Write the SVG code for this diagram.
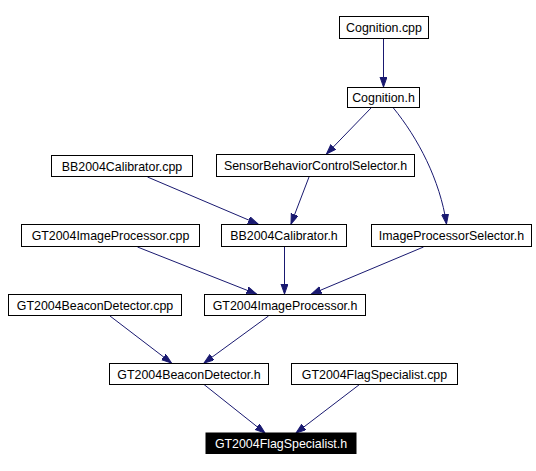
<svg xmlns="http://www.w3.org/2000/svg" width="536" height="471" viewBox="0 0 536 471">
<style>
.n rect{fill:#fff;stroke:#000;stroke-width:1}
.n text{font-family:"Liberation Sans",Arial,sans-serif;font-size:12.4px;fill:#000;text-anchor:middle}
.n.hl rect{fill:#000}
.n.hl text{fill:#fff}
.e path{fill:none;stroke:#191970;stroke-width:1;marker-end:url(#ah)}
</style>
<defs>
<marker id="ah" markerUnits="userSpaceOnUse" markerWidth="11" markerHeight="8" refX="10" refY="3.5" orient="auto">
<path d="M0,0 L10,3.5 L0,7 z" fill="#191970" stroke="#191970" stroke-width="1"/>
</marker>
</defs>
<rect width="536" height="471" fill="#fff"/>
<g class="e" id="edges">
<path d="M383.5,38.5 L383.5,87"/>
<path d="M371.5,107.5 L326.5,154"/>
<path d="M393,107.5 C418,138 440,180 446.5,224"/>
<path d="M309,177 L291,224"/>
<path d="M147.5,177 L258,224"/>
<path d="M284.5,247 L284.5,294"/>
<path d="M137.5,247 L256.5,294"/>
<path d="M423.5,247 L311.5,294"/>
<path d="M110,316 L171.5,363"/>
<path d="M268.5,316 L204,363"/>
<path d="M204,384.5 L265,433"/>
<path d="M359.5,384.5 L296,433"/>
</g>
<g class="n" id="cognition_cpp"><rect x="339.5" y="16.5" width="89" height="22"/><text x="384" y="32">Cognition.cpp</text></g>
<g class="n" id="cognition_h"><rect x="347.5" y="87.5" width="72" height="20"/><text x="383.5" y="102">Cognition.h</text></g>
<g class="n" id="sbcs_h"><rect x="216.5" y="154.5" width="198" height="22"/><text x="315.5" y="170">SensorBehaviorControlSelector.h</text></g>
<g class="n" id="bb_cpp"><rect x="51.5" y="155.5" width="141" height="21"/><text x="122" y="170.5">BB2004Calibrator.cpp</text></g>
<g class="n" id="bb_h"><rect x="221.5" y="224.5" width="125" height="22"/><text x="284" y="240">BB2004Calibrator.h</text></g>
<g class="n" id="ips_h"><rect x="371.5" y="224.5" width="160" height="22"/><text x="451.5" y="240">ImageProcessorSelector.h</text></g>
<g class="n" id="gtip_cpp"><rect x="21.5" y="224.5" width="178" height="22"/><text x="110.5" y="240">GT2004ImageProcessor.cpp</text></g>
<g class="n" id="gtip_h"><rect x="204.5" y="294.5" width="161" height="21"/><text x="285" y="309.5">GT2004ImageProcessor.h</text></g>
<g class="n" id="gtbd_cpp"><rect x="8.5" y="294.5" width="173" height="21"/><text x="95" y="309.5">GT2004BeaconDetector.cpp</text></g>
<g class="n" id="gtbd_h"><rect x="109.5" y="363.5" width="159" height="21"/><text x="189" y="378.5">GT2004BeaconDetector.h</text></g>
<g class="n" id="gtfs_cpp"><rect x="291.5" y="363.5" width="166" height="21"/><text x="374.5" y="378.5">GT2004FlagSpecialist.cpp</text></g>
<g class="n hl" id="gtfs_h"><rect x="206" y="433" width="150" height="20.5"/><text x="281" y="448">GT2004FlagSpecialist.h</text></g>
</svg>
